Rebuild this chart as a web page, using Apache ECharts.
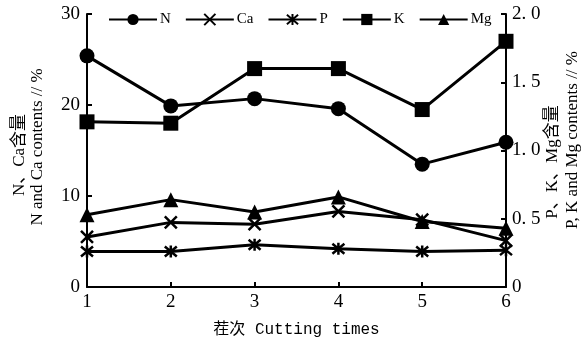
<!DOCTYPE html>
<html><head><meta charset="utf-8">
<script src="https://cdn.jsdelivr.net/npm/echarts@6/dist/echarts.min.js"></script>
<style>html,body{margin:0;padding:0;background:#fff}#c{width:587px;height:344px}</style>
</head><body><div id="c"></div>
<script>
const categories = ['1','2','3','4','5','6'];
const N  = [25.4, 19.9, 20.7, 19.6, 13.5, 15.9];
const Ca = [5.5, 7.1, 6.9, 8.3, 7.4, 5.1];
const P  = [0.26, 0.26, 0.31, 0.28, 0.26, 0.27];
const K  = [1.21, 1.20, 1.60, 1.60, 1.30, 1.80];
const Mg = [0.53, 0.64, 0.55, 0.66, 0.48, 0.43];
const leftTicks = [0, 10, 20, 30];
const rightTicks = [0, 0.5, 1.0, 1.5, 2.0];

const serif = 'Liberation Serif, DejaVu Serif, serif';
const mono = 'Liberation Mono, Noto Sans CJK SC, monospace';
const crossSym = 'path://M0,0L10,10M10,0L0,10';
const starSym = 'path://M0,0L10,10M10,0L0,10M5,-1L5,11';

function mkSeries(name, data, yIdx, symbol, size, stroke) {
  return {
    name, type: 'line', data, yAxisIndex: yIdx, symbol, symbolSize: size,
    lineStyle: {color: '#000', width: 3},
    itemStyle: stroke ? {color: '#000', borderColor: '#000', borderWidth: 2.5} : {color: '#000'},
    emphasis: {disabled: true}, animation: false
  };
}

const chart = echarts.init(document.getElementById('c'));
chart.setOption({
  animation: false,
  backgroundColor: '#fff',
  grid: {left: 87, right: 81, top: 14, bottom: 57, containLabel: false},
  legend: {
    top: 7, left: 103, itemWidth: 48, itemHeight: 14, itemGap: 14,
    textStyle: {fontFamily: serif, fontSize: 15, color: '#000', padding: [0,0,0,-2]},
    data: ['N','Ca','P','K','Mg']
  },
  xAxis: {
    type: 'category', data: categories, boundaryGap: false,
    axisLine: {lineStyle: {color: '#000', width: 2}},
    axisTick: {inside: true, length: 5, lineStyle: {color: '#000', width: 2}},
    axisLabel: {fontFamily: serif, fontSize: 19, color: '#000', margin: 6},
    name: '茬次 Cutting times', nameLocation: 'middle', nameGap: 35,
    nameTextStyle: {fontFamily: mono, fontSize: 16, color: '#000'}
  },
  yAxis: [
    {type: 'value', min: 0, max: 30, interval: 10, position: 'left',
     axisLine: {show: true, lineStyle: {color: '#000', width: 2}},
     axisTick: {show: true, inside: true, length: 5, lineStyle: {color: '#000', width: 2}},
     axisLabel: {fontFamily: serif, fontSize: 19, color: '#000', margin: 7,
       formatter: v => leftTicks.includes(v) ? String(v) : ''},
     splitLine: {show: false}},
    {type: 'value', min: 0, max: 2, interval: 0.5, position: 'right',
     axisLine: {show: true, lineStyle: {color: '#000', width: 2}},
     axisTick: {show: true, inside: true, length: 5, lineStyle: {color: '#000', width: 2}},
     axisLabel: {fontFamily: serif, fontSize: 19, color: '#000', margin: 6,
       formatter: v => rightTicks.includes(v) ? (v === 0 ? '0' : v.toFixed(1).replace('.', '. ')) : ''},
     splitLine: {show: false}}
  ],
  graphic: [
    {type: 'text', x: 20, y: 155, rotation: Math.PI/2,
     style: {text: 'N、Ca含量', font: '17px Liberation Serif, Noto Sans CJK SC', fill: '#000', textAlign: 'center', textVerticalAlign: 'middle'}},
    {type: 'text', x: 38, y: 147, rotation: Math.PI/2,
     style: {text: 'N and Ca contents // %', font: '17px Liberation Serif, Noto Sans CJK SC', fill: '#000', textAlign: 'center', textVerticalAlign: 'middle'}},
    {type: 'text', x: 553, y: 162, rotation: Math.PI/2,
     style: {text: 'P、K、Mg含量', font: '17px Liberation Serif, Noto Sans CJK SC', fill: '#000', textAlign: 'center', textVerticalAlign: 'middle'}},
    {type: 'text', x: 573, y: 140, rotation: Math.PI/2,
     style: {text: 'P, K and Mg contents // %', font: '17px Liberation Serif, Noto Sans CJK SC', fill: '#000', textAlign: 'center', textVerticalAlign: 'middle'}}
  ],
  series: [
    mkSeries('N', N, 0, 'circle', 15, false),
    mkSeries('Ca', Ca, 0, crossSym, 12, true),
    mkSeries('P', P, 1, starSym, 12, true),
    mkSeries('K', K, 1, 'rect', 15, false),
    mkSeries('Mg', Mg, 1, 'triangle', 15, false)
  ]
});
</script></body></html>
